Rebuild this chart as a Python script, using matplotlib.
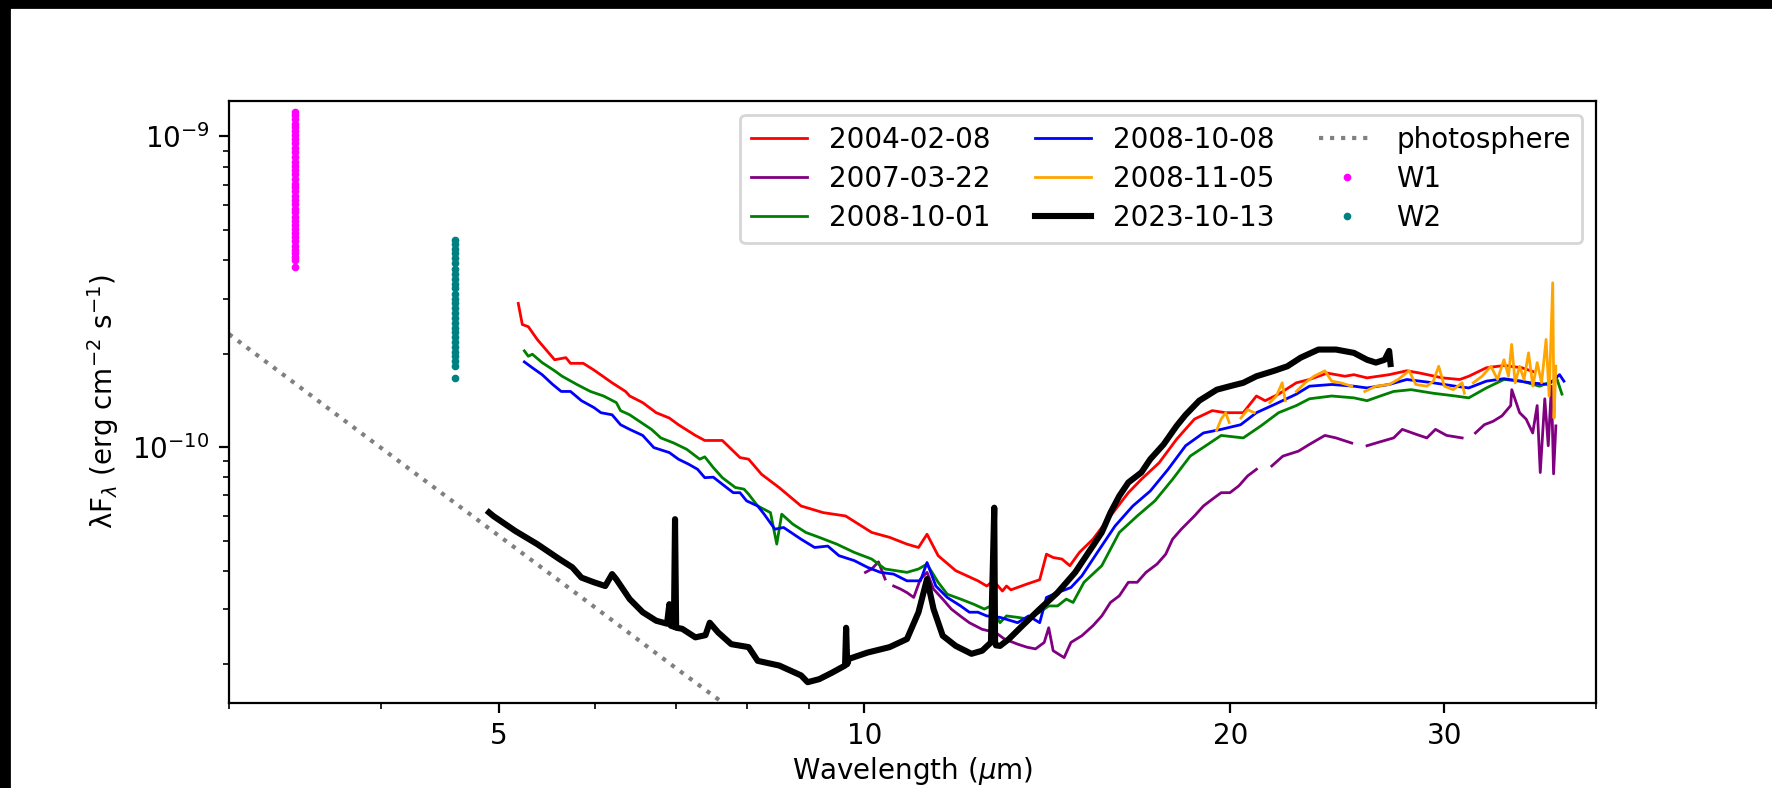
import numpy as np
import matplotlib
matplotlib.use("Agg")
import matplotlib.pyplot as plt
from matplotlib.patches import Rectangle
from matplotlib.ticker import NullFormatter

nan = np.nan

# 2004-02-08
red_wl = [5.19, 5.23, 5.29, 5.38, 5.56, 5.68, 5.73, 5.87, 5.99, 6.20, 6.36, 6.41, 6.57, 6.74,
          6.91, 7.03, 7.26, 7.39, 7.64, 7.90, 8.03, 8.23, 8.51, 8.87, 9.25, 9.65, 10.14, 10.49,
          10.84, 11.08, 11.26, 11.50, 11.89, 12.40, 12.61, 12.77, 12.99, 13.09, 13.20, 13.60,
          13.94, 14.12, 14.30, 14.54, 14.76, 15.03, 15.42, 15.94, 16.49, 16.90, 17.48, 18.07,
          18.69, 19.33, 19.82, 20.50, 21.02, 21.37, 21.92, 22.67, 23.24, 24.04, 24.86, 25.28,
          25.92, 27.03, 27.95, 28.66, 29.89, 30.90, 31.43, 32.50, 33.60, 34.75, 35.50]
red_fl = [2.90e-10, 2.48e-10, 2.44e-10, 2.22e-10, 1.91e-10, 1.94e-10, 1.86e-10, 1.86e-10,
          1.77e-10, 1.61e-10, 1.51e-10, 1.46e-10, 1.39e-10, 1.29e-10, 1.24e-10, 1.18e-10,
          1.09e-10, 1.05e-10, 1.05e-10, 9.25e-11, 9.14e-11, 8.17e-11, 7.40e-11, 6.46e-11,
          6.15e-11, 6.00e-11, 5.31e-11, 5.12e-11, 4.87e-11, 4.75e-11, 5.24e-11, 4.47e-11,
          4.00e-11, 3.71e-11, 3.57e-11, 3.71e-11, 3.44e-11, 3.57e-11, 3.47e-11, 3.62e-11,
          3.74e-11, 4.52e-11, 4.41e-11, 4.36e-11, 4.15e-11, 4.58e-11, 5.05e-11, 6.00e-11,
          7.13e-11, 7.87e-11, 8.90e-11, 1.06e-10, 1.23e-10, 1.31e-10, 1.29e-10, 1.29e-10,
          1.46e-10, 1.41e-10, 1.48e-10, 1.61e-10, 1.65e-10, 1.73e-10, 1.69e-10, 1.71e-10,
          1.67e-10, 1.71e-10, 1.76e-10, 1.73e-10, 1.67e-10, 1.65e-10, 1.69e-10, 1.80e-10,
          1.83e-10, 1.80e-10, 1.75e-10]

# 2007-03-22
purple_wl = [10.02, 10.14, 10.27, 10.40, nan, 10.57, 10.71, 10.84, 10.98, 11.12, 11.26, 11.40,
             11.60, 11.79, 11.99, 12.20, 12.50, 12.82, 13.04, 13.37, 13.60, 13.83, 14.06, 14.18,
             14.30, 14.60, 14.79, 15.10, 15.42, 15.68, 15.94, 16.21, 16.49, 16.77, 17.05, 17.41,
             17.70, 17.93, 18.23, 18.69, 19.01, 19.33, 19.66, 19.99, 20.33, 20.67, 21.02, nan,
             21.64, 22.10, 22.76, 23.24, 23.93, 24.44, 25.18, nan, 25.92, 26.58, 27.26, 27.71,
             28.43, 29.03, 29.51, 30.14, 31.04, nan, 31.83, 32.37, 32.91, 33.47, 34.03, 34.10,
             34.61, 35.04, 35.48, 35.78, 35.99, 36.30, 36.54, 36.76, 36.91, 37.07]
purple_fl = [3.95e-11, 4.05e-11, 4.27e-11, 3.76e-11, nan, 3.57e-11, 3.49e-11, 3.40e-11, 3.28e-11,
             3.76e-11, 3.95e-11, 3.49e-11, 3.24e-11, 3.01e-11, 2.86e-11, 2.72e-11, 2.59e-11,
             2.53e-11, 2.41e-11, 2.32e-11, 2.27e-11, 2.24e-11, 2.35e-11, 2.62e-11, 2.21e-11,
             2.10e-11, 2.35e-11, 2.47e-11, 2.66e-11, 2.86e-11, 3.16e-11, 3.32e-11, 3.67e-11,
             3.67e-11, 3.95e-11, 4.20e-11, 4.52e-11, 5.05e-11, 5.44e-11, 6.00e-11, 6.46e-11,
             6.79e-11, 7.13e-11, 7.13e-11, 7.50e-11, 8.07e-11, 8.48e-11, nan, 8.69e-11,
             9.35e-11, 9.70e-11, 1.02e-10, 1.09e-10, 1.07e-10, 1.03e-10, nan, 1.01e-10,
             1.04e-10, 1.07e-10, 1.14e-10, 1.10e-10, 1.07e-10, 1.14e-10, 1.09e-10, 1.07e-10,
             nan, 1.11e-10, 1.18e-10, 1.21e-10, 1.26e-10, 1.36e-10, 1.53e-10, 1.29e-10,
             1.23e-10, 1.11e-10, 1.36e-10, 8.28e-11, 1.43e-10, 1.01e-10, 1.57e-10, 8.20e-11,
             1.17e-10]

# 2008-10-01
green_wl = [5.25, 5.29, 5.33, 5.43, 5.56, 5.64, 5.80, 5.95, 6.10, 6.25, 6.30, 6.41, 6.55, 6.68,
            6.80, 6.97, 7.14, 7.32, 7.39, 7.51, 7.64, 7.83, 7.96, 8.03, 8.17, 8.37, 8.47, 8.55,
            8.73, 8.95, 9.18, 9.49, 9.81, 10.14, 10.40, 10.84, 11.08, 11.26, 11.50, 11.70, 12.00,
            12.30, 12.55, 12.71, 12.93, 13.09, 13.37, 13.60, 13.94, 14.18, 14.42, 14.66, 14.85,
            15.16, 15.68, 16.21, 16.77, 17.34, 17.93, 18.54, 19.17, 19.66, 20.50, 21.20, 21.92,
            22.67, 23.24, 24.24, 25.28, 25.92, 26.58, 27.26, 28.18, 29.38, 30.64, 31.43, 32.50,
            33.60, 34.75, 35.94, 37.16, 37.50]
green_fl = [2.04e-10, 1.96e-10, 1.99e-10, 1.87e-10, 1.76e-10, 1.69e-10, 1.59e-10, 1.51e-10,
            1.46e-10, 1.39e-10, 1.31e-10, 1.27e-10, 1.20e-10, 1.14e-10, 1.07e-10, 1.03e-10,
            9.84e-11, 9.14e-11, 9.30e-11, 8.59e-11, 7.97e-11, 7.41e-11, 7.32e-11, 7.05e-11,
            6.46e-11, 6.15e-11, 4.87e-11, 6.08e-11, 5.65e-11, 5.31e-11, 5.12e-11, 4.87e-11,
            4.58e-11, 4.36e-11, 4.05e-11, 3.95e-11, 4.05e-11, 4.20e-11, 3.67e-11, 3.36e-11,
            3.24e-11, 3.12e-11, 3.01e-11, 3.08e-11, 2.72e-11, 2.86e-11, 2.83e-11, 2.80e-11,
            2.94e-11, 3.08e-11, 3.08e-11, 3.24e-11, 3.16e-11, 3.67e-11, 4.15e-11, 5.31e-11,
            6.00e-11, 6.71e-11, 7.87e-11, 9.35e-11, 1.02e-10, 1.09e-10, 1.07e-10, 1.17e-10,
            1.29e-10, 1.36e-10, 1.43e-10, 1.46e-10, 1.44e-10, 1.41e-10, 1.46e-10, 1.51e-10,
            1.53e-10, 1.49e-10, 1.46e-10, 1.44e-10, 1.55e-10, 1.65e-10, 1.63e-10, 1.57e-10,
            1.65e-10, 1.48e-10]

# 2008-10-08
blue_wl = [5.25, 5.33, 5.43, 5.54, 5.63, 5.73, 5.85, 5.99, 6.07, 6.20, 6.30, 6.41, 6.57, 6.71,
           6.91, 7.03, 7.17, 7.29, 7.39, 7.51, 7.64, 7.80, 7.90, 8.00, 8.17, 8.27, 8.44, 8.58,
           8.87, 9.10, 9.33, 9.53, 9.81, 10.06, 10.31, 10.57, 10.84, 11.12, 11.26, 11.45, 11.70,
           12.00, 12.20, 12.40, 12.61, 12.93, 13.37, 13.65, 13.94, 14.12, 14.42, 14.79, 15.10,
           15.55, 16.08, 16.63, 17.19, 17.78, 18.38, 19.01, 19.66, 20.40, 21.02, 21.74, 22.67,
           23.24, 24.24, 25.28, 25.92, 27.03, 27.95, 29.38, 30.64, 31.43, 32.50, 33.60, 35.34,
           36.56, 37.33, 37.64]
blue_fl = [1.88e-10, 1.80e-10, 1.71e-10, 1.59e-10, 1.51e-10, 1.51e-10, 1.41e-10, 1.34e-10,
           1.29e-10, 1.27e-10, 1.18e-10, 1.14e-10, 1.09e-10, 9.96e-11, 9.60e-11, 9.14e-11,
           8.80e-11, 8.48e-11, 7.97e-11, 8.00e-11, 7.59e-11, 7.13e-11, 7.13e-11, 6.71e-11,
           6.46e-11, 6.08e-11, 5.44e-11, 5.51e-11, 5.05e-11, 4.75e-11, 4.80e-11, 4.47e-11,
           4.31e-11, 4.10e-11, 3.95e-11, 3.90e-11, 3.71e-11, 3.71e-11, 4.25e-11, 3.57e-11,
           3.28e-11, 3.08e-11, 2.94e-11, 2.94e-11, 2.86e-11, 2.83e-11, 2.72e-11, 2.86e-11,
           2.72e-11, 3.28e-11, 3.40e-11, 3.53e-11, 3.85e-11, 4.58e-11, 5.57e-11, 6.46e-11,
           7.22e-11, 8.48e-11, 1.01e-10, 1.11e-10, 1.14e-10, 1.18e-10, 1.29e-10, 1.37e-10,
           1.48e-10, 1.57e-10, 1.59e-10, 1.57e-10, 1.55e-10, 1.59e-10, 1.65e-10, 1.61e-10,
           1.57e-10, 1.55e-10, 1.63e-10, 1.66e-10, 1.61e-10, 1.59e-10, 1.71e-10, 1.63e-10]

# 2008-11-05
orange_wl = [19.49, 19.66, 19.83, 19.96, nan, 20.41, 20.67, 20.93, nan, 21.56, 21.83, 22.07,
             22.20, nan, 22.67, 23.05, 23.44, 23.93, 24.24, 24.65, 25.18, nan, 25.81, 26.36,
             27.03, 27.49, 28.07, 28.43, 29.03, 29.39, 29.69, 30.01, 30.52, 31.04, 31.17, nan,
             31.70, 32.23, 32.78, 33.19, 33.60, 33.89, 34.09, 34.32, 34.61, 34.90, 35.20, 35.49,
             35.78, 36.08, 36.39, 36.60, 36.85, 36.94, 37.07]
orange_fl = [1.13e-10, 1.23e-10, 1.29e-10, 1.20e-10, nan, 1.24e-10, 1.32e-10, 1.29e-10, nan,
             1.39e-10, 1.46e-10, 1.61e-10, 1.41e-10, nan, 1.51e-10, 1.61e-10, 1.69e-10,
             1.76e-10, 1.63e-10, 1.61e-10, 1.57e-10, nan, 1.51e-10, 1.57e-10, 1.59e-10,
             1.65e-10, 1.76e-10, 1.59e-10, 1.57e-10, 1.63e-10, 1.82e-10, 1.57e-10, 1.53e-10,
             1.61e-10, 1.49e-10, nan, 1.61e-10, 1.69e-10, 1.82e-10, 1.65e-10, 1.91e-10,
             1.69e-10, 2.14e-10, 1.61e-10, 1.82e-10, 1.65e-10, 2.01e-10, 1.57e-10, 1.87e-10,
             1.61e-10, 2.22e-10, 1.46e-10, 3.38e-10, 1.24e-10, 1.82e-10]

# 2023-10-13
black_wl = [4.91, 4.95, 5.16, 5.38, 5.61, 5.75, 5.85, 5.99, 6.12, 6.20, 6.25, 6.41, 6.57, 6.74,
            6.88, 6.91, 6.93, 6.97, 6.985, 7.00, 7.08, 7.26, 7.40, 7.46, 7.58, 7.77, 8.03, 8.17,
            8.51, 8.87, 8.98, 9.18, 9.41, 9.64, 9.66, 9.68, 9.71, 10.06, 10.49, 10.84, 11.08,
            11.26, 11.40, 11.60, 11.89, 12.25, 12.50, 12.71, 12.79, 12.81, 12.83, 12.93, 13.15,
            13.49, 13.94, 14.42, 14.91, 15.42, 15.68, 15.94, 16.21, 16.49, 16.90, 17.19, 17.63,
            18.07, 18.38, 18.86, 19.50, 19.99, 20.50, 21.02, 21.74, 22.29, 22.86, 23.64, 24.44,
            25.28, 25.92, 26.36, 26.80, 27.03, 27.10]
black_fl = [6.16e-11, 6.00e-11, 5.37e-11, 4.87e-11, 4.36e-11, 4.10e-11, 3.80e-11, 3.67e-11,
            3.57e-11, 3.90e-11, 3.75e-11, 3.24e-11, 2.94e-11, 2.76e-11, 2.70e-11, 3.12e-11,
            2.66e-11, 2.64e-11, 5.86e-11, 2.62e-11, 2.60e-11, 2.44e-11, 2.48e-11, 2.72e-11,
            2.53e-11, 2.32e-11, 2.27e-11, 2.05e-11, 1.98e-11, 1.84e-11, 1.75e-11, 1.79e-11,
            1.88e-11, 1.98e-11, 2.62e-11, 2.00e-11, 2.08e-11, 2.18e-11, 2.27e-11, 2.41e-11,
            2.94e-11, 3.76e-11, 3.01e-11, 2.47e-11, 2.29e-11, 2.16e-11, 2.21e-11, 2.35e-11,
            6.38e-11, 2.35e-11, 2.30e-11, 2.29e-11, 2.41e-11, 2.66e-11, 3.01e-11, 3.40e-11,
            3.95e-11, 4.81e-11, 5.31e-11, 6.15e-11, 6.96e-11, 7.69e-11, 8.28e-11, 9.14e-11,
            1.02e-10, 1.17e-10, 1.27e-10, 1.41e-10, 1.53e-10, 1.57e-10, 1.61e-10, 1.69e-10,
            1.76e-10, 1.82e-10, 1.94e-10, 2.06e-10, 2.06e-10, 2.01e-10, 1.91e-10, 1.87e-10,
            1.91e-10, 2.04e-10, 1.85e-10]

# photosphere model
phot_wl = [3.0, 4.0, 5.0, 6.0, 7.0, 8.0]
phot_fl = [2.31e-10, 9.95e-11, 5.19e-11, 3.05e-11, 1.94e-11, 1.32e-11]

# WISE / NEOWISE photometry
w1_wl = 3.4
w1_fl = [1.20e-9, 1.17e-9, 1.14e-9, 1.10e-9, 1.07e-9, 1.04e-9, 1.01e-9, 9.8e-10, 9.5e-10,
         9.2e-10, 8.9e-10, 8.6e-10, 8.3e-10, 8.05e-10, 7.8e-10, 7.55e-10, 7.3e-10, 7.05e-10,
         6.85e-10, 6.65e-10, 6.45e-10, 6.25e-10, 6.05e-10, 5.85e-10, 5.7e-10, 5.5e-10,
         5.35e-10, 5.2e-10, 5.05e-10, 4.9e-10, 4.75e-10, 4.6e-10, 4.45e-10, 4.3e-10, 4.2e-10,
         4.1e-10, 4.0e-10, 3.8e-10]
w2_wl = 4.6
w2_fl = [4.65e-10, 4.5e-10, 4.35e-10, 4.2e-10, 4.05e-10, 3.9e-10, 3.75e-10, 3.6e-10, 3.48e-10,
         3.36e-10, 3.24e-10, 3.12e-10, 3.0e-10, 2.9e-10, 2.8e-10, 2.7e-10, 2.6e-10, 2.5e-10,
         2.42e-10, 2.34e-10, 2.26e-10, 2.18e-10, 2.1e-10, 2.03e-10, 1.96e-10, 1.89e-10,
         1.82e-10, 1.67e-10]

DPI = 200
fig = plt.figure(figsize=(1772 / DPI, 788 / DPI), dpi=DPI)
ax = fig.add_axes([229 / 1772, 1 - 703 / 788, (1596 - 229) / 1772, (703 - 101) / 788])

ax.plot(red_wl, red_fl, color='red', lw=1, label='2004-02-08')
ax.plot(purple_wl, purple_fl, color='purple', lw=1, label='2007-03-22')
ax.plot(green_wl, green_fl, color='green', lw=1, label='2008-10-01')
ax.plot(blue_wl, blue_fl, color='blue', lw=1, label='2008-10-08')
ax.plot(orange_wl, orange_fl, color='orange', lw=1, label='2008-11-05')
ax.plot(black_wl, black_fl, color='black', lw=2.2, label='2023-10-13')
ax.plot(phot_wl, phot_fl, color='gray', ls=':', lw=1.5, label='photosphere')
ax.plot([w1_wl] * len(w1_fl), w1_fl, '.', color='magenta', ms=3.5, label='W1')
ax.plot([w2_wl] * len(w2_fl), w2_fl, '.', color='teal', ms=3.5, label='W2')

ax.set_xscale('log')
ax.set_yscale('log')
ax.set_xlim(3, 40)
ax.set_ylim(1.5e-11, 1.3e-9)
ax.set_xticks([5, 10, 20, 30])
ax.set_xticklabels(['5', '10', '20', '30'])
ax.set_xticks([3, 4, 6, 7, 8, 9, 40], minor=True)
ax.xaxis.set_minor_formatter(NullFormatter())
ax.yaxis.set_minor_formatter(NullFormatter())

ax.set_xlabel(r'Wavelength ($\mu$m)', labelpad=1.5)
ax.set_ylabel(r'λF$_\lambda$ (erg cm$^{-2}$ s$^{-1}$)')
ax.legend(ncol=3, loc='upper right', labelspacing=0.4, columnspacing=1.6)

# dark strips along the top and left edges of the original image
fig.patches.append(Rectangle((0, 1 - 7 / 788), 1, 7 / 788, transform=fig.transFigure,
                             color='black', zorder=-1))
fig.patches.append(Rectangle((0, 0), 9 / 1772, 1, transform=fig.transFigure,
                             color='black', zorder=-1))

fig.savefig('out.png', dpi=DPI)
